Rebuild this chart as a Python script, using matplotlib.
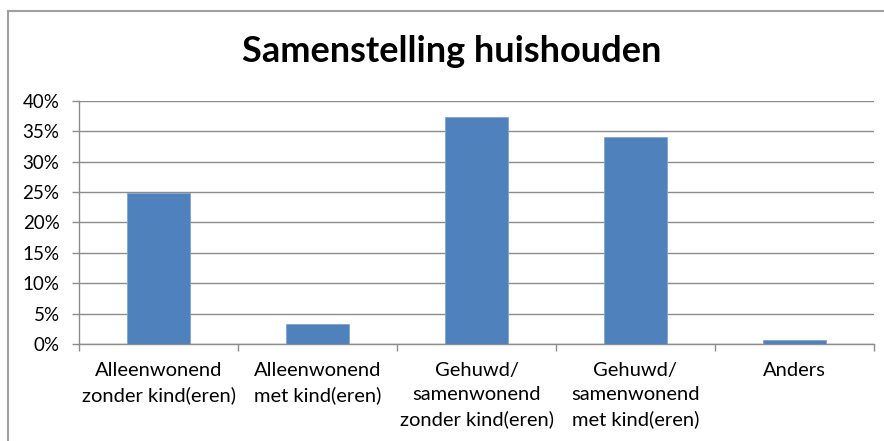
import matplotlib.pyplot as plt
from matplotlib.lines import Line2D
from matplotlib.ticker import FuncFormatter, FixedLocator

categories = ['Alleenwonend\nzonder kind(eren)', 'Alleenwonend\nmet kind(eren)',
			  'Gehuwd/\nsamenwonend\nzonder kind(eren)', 'Gehuwd/\nsamenwonend\nmet kind(eren)',
			  'Anders']
shares = [24.9, 3.25, 37.3, 34.1, 0.65]  # %
y_ticks = [0, 5, 10, 15, 20, 25, 30, 35, 40]

plt.rcParams['font.family'] = ['Lato', 'DejaVu Sans']

figure = plt.figure(figsize = (8.84, 4.41), dpi = 100)
axe = figure.add_axes([79/884, 1 - 344/441, 795/884, 243.3/441])

axe.bar(range(len(categories)), shares, width = 0.39, color = '#4F81BD',
		edgecolor = '#7FA4D3', linewidth = 0.6, zorder = 3)

axe.set_xlim(-0.5, len(categories) - 0.5)
axe.set_ylim(0, 40)
axe.set_yticks(y_ticks)
axe.yaxis.set_major_formatter(FuncFormatter(lambda v, _: f'{v:.0f}%'))
axe.grid(axis = 'y', color = '#8C8C8C', linewidth = 1, zorder = 0)

axe.set_xticks(range(len(categories)))
axe.set_xticklabels(categories, fontsize = 14.5, linespacing = 1.5, va = 'top')
axe.xaxis.set_minor_locator(FixedLocator([i - 0.5 for i in range(len(categories) + 1)]))
axe.tick_params(axis = 'x', which = 'major', length = 0, pad = 13)
axe.tick_params(axis = 'x', which = 'minor', length = 5, color = '#8C8C8C', width = 1)
axe.tick_params(axis = 'y', length = 5, color = '#8C8C8C', width = 1, labelsize = 13.5, pad = 9)

for side in ['top', 'right']:
	axe.spines[side].set_visible(False)
for side in ['left', 'bottom']:
	axe.spines[side].set_color('#8C8C8C')
	axe.spines[side].set_linewidth(1)

figure.text(452/884, 1 - 52/441, 'Samenstelling huishouden', ha = 'center', va = 'center',
			fontsize = 26, fontweight = 'bold')

# chart area border (only top and left visible in the crop)
figure.add_artist(Line2D([8/884, 1], [1 - 11/441] * 2, color = '#A0A0A0', linewidth = 1.5))
figure.add_artist(Line2D([8/884] * 2, [0, 1 - 11/441], color = '#A0A0A0', linewidth = 1.5))

figure.savefig('out.png')
